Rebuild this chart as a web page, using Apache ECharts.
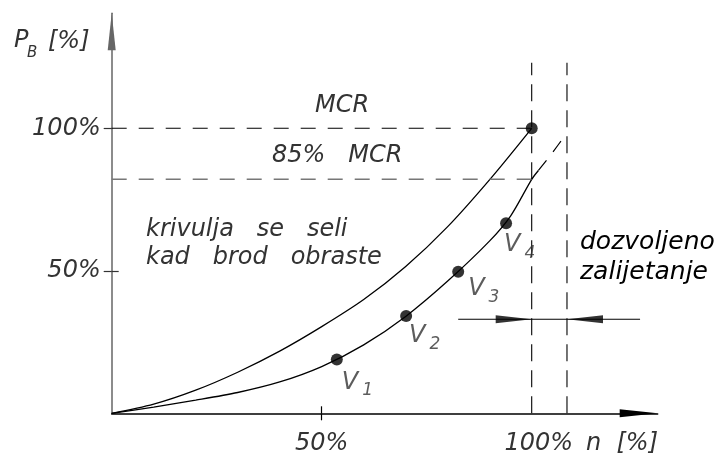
<!DOCTYPE html>
<html><head><meta charset="utf-8">
<script src="https://cdn.jsdelivr.net/npm/echarts@6/dist/echarts.min.js"></script>
<style>html,body{margin:0;padding:0;background:#fff}#c{width:723px;height:459px}</style>
</head><body><div id="c"></div><script>
// ---- data ----
const upperX = [0, 10, 20, 30, 40, 50, 60, 70, 80, 90, 100];
const upperY = [0, 3.2, 8.1, 14.4, 21.8, 30.4, 39.9, 51.5, 65.5, 82.0, 100];
const lowerX = [0, 10, 20, 30, 40, 50, 60, 70, 80, 90, 95, 100, 101.6];
const lowerY = [0, 2.2, 4.6, 7.3, 11.0, 16.4, 24.0, 34.0, 46.4, 60.5, 69.3, 82.1, 85.2];
const extX = [101.6, 104.8, 108.3];
const extY = [85.2, 91.2, 98.2];
const pointNames = ['1', '2', '3', '4'];
const pointX = [53.6, 70.1, 82.5, 93.9];
const pointY = [18.9, 34.1, 49.7, 66.7];
const mcrPoint = [100, 100];
const mcrLevel = 100;
const mcr85Level = 82.1;
const nominalN = 100;
const overrunN = 108.4;
const guideTop = 123;
const overrunArrowY = 33;
const overrunArrowFrom = 82.5;
const overrunArrowTo = 125.8;
const xTicks = [50, 100];
const yTicks = [50, 100];
const xMax = 130;
const yMax = 140.35;

// ---- styles ----
const FAM = "'DejaVu Sans ExtraLight', 'DejaVu Sans'";
const thin = { fontFamily: FAM, fontStyle: 'italic', fontWeight: 200, fontSize: 24, color: '#333' };
const labelOffsets = [[11, 17], [9, 14], [16, 11], [4, 16]];
const zip = (a, b) => a.map((v, i) => [v, b[i]]);

const chart = echarts.init(document.getElementById('c'), null, { renderer: 'canvas' });

function txt(x, y, text, extra) {
  return {
    type: 'text', x: x, y: y, z: 100,
    style: Object.assign({
      text: text, fill: '#333', fontFamily: FAM, fontStyle: 'italic', fontWeight: 200,
      fontSize: 24, align: 'left', verticalAlign: 'top'
    }, extra || {})
  };
}

const lineBase = { type: 'line', showSymbol: false, symbol: 'none', silent: true, animation: false };

const option = {
  animation: false,
  backgroundColor: '#fff',
  grid: [
    { left: 111.7, right: 65.3, top: 13.3, bottom: 45.7 },
    { left: 111.7, right: 65.3, top: 13.3, bottom: 45.7 }
  ],
  xAxis: [
    {
      type: 'value', gridIndex: 0, min: 0, max: xMax,
      axisLine: { show: true, symbol: ['none', 'triangle'], symbolSize: [8, 38], symbolOffset: [0, -19],
        lineStyle: { color: '#000', width: 1.5 } },
      axisTick: { show: true, customValues: [50], length: 7, lineStyle: { color: '#000', width: 1.2 } },
      axisLabel: {
        customValues: xTicks, margin: 18, ...thin,
        formatter: v => v === 100 ? '{a|100%}' : v + '%',
        rich: { a: { ...thin, padding: [0, 0, 0, 14] } }
      },
      splitLine: { show: false }
    },
    {
      type: 'value', gridIndex: 1, min: 0, max: xMax,
      axisLine: { show: false },
      axisTick: { show: true, inside: true, customValues: [50], length: 7, lineStyle: { color: '#000', width: 1.2 } },
      axisLabel: { show: false },
      splitLine: { show: false }
    }
  ],
  yAxis: [
    {
      type: 'value', gridIndex: 0, min: 0, max: yMax,
      axisLine: { show: true, symbol: ['none', 'triangle'], symbolSize: [8, 37], symbolOffset: [0, -18.5],
        lineStyle: { color: '#666', width: 1.5 } },
      axisTick: { show: true, customValues: yTicks, length: 8, lineStyle: { color: '#333', width: 1.2 } },
      axisLabel: { customValues: yTicks, margin: 11, ...thin, formatter: v => v + '%' },
      splitLine: { show: false }
    },
    {
      type: 'value', gridIndex: 1, min: 0, max: yMax,
      axisLine: { show: false },
      axisTick: { show: true, inside: true, customValues: [50], length: 7, lineStyle: { color: '#333', width: 1.2 } },
      axisLabel: { show: false },
      splitLine: { show: false }
    }
  ],
  series: [
    { ...lineBase, name: 'upper', data: zip(upperX, upperY), smooth: 0.3,
      lineStyle: { color: '#000', width: 1.3 } },
    { ...lineBase, name: 'lower', data: zip(lowerX, lowerY), smooth: 0.3,
      lineStyle: { color: '#000', width: 1.3 } },
    { ...lineBase, name: 'lowerExt', data: zip(extX, extY), smooth: 0.3,
      lineStyle: { color: '#000', width: 1.2, type: [13, 11] } },
    { ...lineBase, name: 'mcr', data: [[0, mcrLevel], [nominalN, mcrLevel]],
      lineStyle: { color: '#000', width: 1.1, type: [15, 12] } },
    { ...lineBase, name: 'mcr85', data: [[0, mcr85Level], [nominalN, mcr85Level]],
      lineStyle: { color: '#777', width: 1.6, type: [15, 12] } },
    { ...lineBase, name: 'n100', data: [[nominalN, 0], [nominalN, guideTop]],
      lineStyle: { color: '#000', width: 1.1, type: [17, 9] } },
    { ...lineBase, name: 'nOver', data: [[overrunN, 0], [overrunN, guideTop]],
      lineStyle: { color: '#000', width: 1.1, type: [17, 9] } },
    { ...lineBase, name: 'overrunLine', data: [[overrunArrowFrom, overrunArrowY], [overrunArrowTo, overrunArrowY]],
      lineStyle: { color: '#000', width: 1.2 } },
    { type: 'scatter', name: 'arrowL', data: [[nominalN, overrunArrowY]], symbol: 'triangle',
      symbolSize: [8, 36], symbolRotate: -90, symbolOffset: [-18, 0], itemStyle: { color: '#000' }, silent: true, z: 5 },
    { type: 'scatter', name: 'arrowR', data: [[overrunN, overrunArrowY]], symbol: 'triangle',
      symbolSize: [8, 36], symbolRotate: 90, symbolOffset: [18, 0], itemStyle: { color: '#000' }, silent: true, z: 5 },
    { type: 'scatter', name: 'points', silent: true, z: 6,
      data: pointX.map((x, i) => ({
        value: [x, pointY[i]],
        label: { show: true, position: labelOffsets[i], formatter: '{v|V}{s|' + pointNames[i] + '}',
          rich: {
            v: { ...thin, fontSize: 24, lineHeight: 24, verticalAlign: 'top' },
            s: { ...thin, fontSize: 17, lineHeight: 17, verticalAlign: 'top', padding: [12, 0, 0, 4] }
          } }
      })),
      symbol: 'circle', symbolSize: 12, itemStyle: { color: '#000' } },
    { type: 'scatter', name: 'mcrPoint', silent: true, z: 6, data: [mcrPoint],
      symbol: 'circle', symbolSize: 12, itemStyle: { color: '#000' } }
  ],
  graphic: [
    txt(14, 29, 'P'),
    txt(27, 45.5, 'B', { fontSize: 15 }),
    txt(48, 29.6, '[%]'),
    txt(586, 431.3, 'n  [%]'),
    txt(315, 94, 'MCR'),
    txt(272, 144, '85%   MCR'),
    txt(146, 218, 'krivulja   se   seli'),
    txt(146, 246, 'kad   brod   obraste'),
    txt(580, 230, 'dozvoljeno', { fontFamily: 'DejaVu Sans', fontWeight: 'normal', fill: '#000', fontSize: 25 }),
    txt(580, 260, 'zalijetanje', { fontFamily: 'DejaVu Sans', fontWeight: 'normal', fill: '#000', fontSize: 25 })
  ]
};
chart.setOption(option);
</script></body></html>
